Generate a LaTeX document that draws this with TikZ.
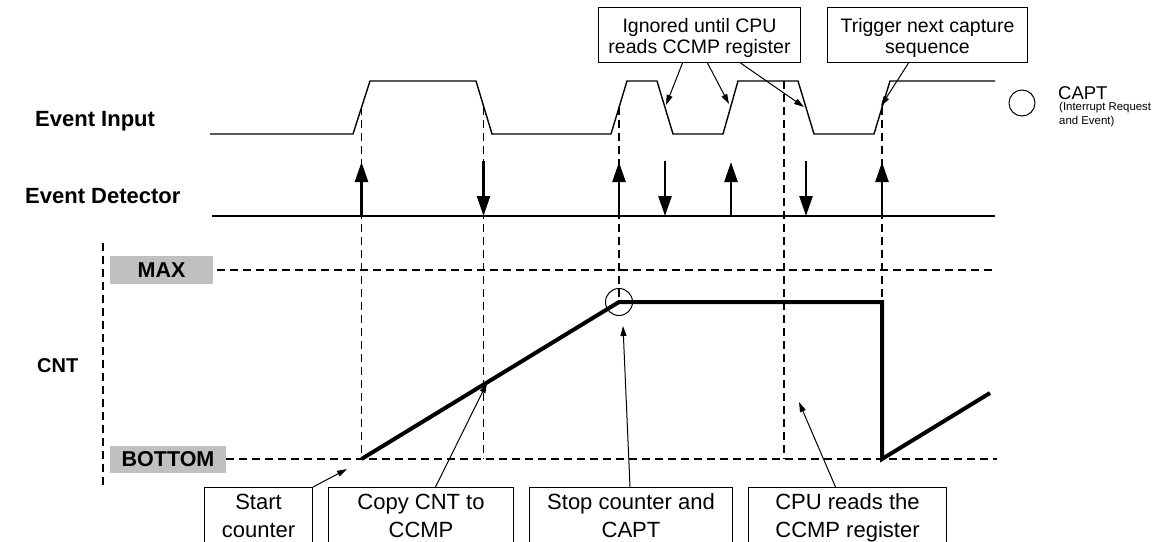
\documentclass[tikz,border=0pt]{standalone}
\usepackage{fontspec}
\setmainfont{Liberation Sans}
\usetikzlibrary{arrows.meta}
\definecolor{lblgray}{RGB}{192,192,192}
\begin{document}
\begin{tikzpicture}[x=1pt,y=-1pt,
  wave/.style={line width=1.4pt, line join=miter},
  gridline/.style={line width=1.1pt, dash pattern=on 8pt off 5pt},
  evarrow/.style={line width=2.5pt, -{Triangle[length=20pt,width=13pt]}},
  cntline/.style={line width=4pt, line join=miter},
  ann/.style={line width=1pt, -{Triangle[length=10pt,width=6pt]}},
  topbox/.style={draw, line width=1pt, anchor=north west, inner sep=0pt, align=center,
    font=\fontsize{19.5}{21}\selectfont, text height=46pt, text depth=9pt},
  botbox/.style={draw, line width=1pt, anchor=north west, inner sep=0pt, align=center,
    font=\fontsize{22}{28}\selectfont, text height=50pt, text depth=8pt},
  siglabel/.style={anchor=base west, inner sep=0pt, font=\fontsize{22}{26}\selectfont\bfseries},
  levelbox/.style={fill=lblgray, inner sep=0pt, font=\fontsize{21.5}{26}\selectfont\bfseries,
    text height=15.4pt, text depth=0pt},
]
\useasboundingbox (0,0) rectangle (1154,541);
\clip (0,0) rectangle (1154,541);

% signal labels
\node[siglabel] (ei) at (35,126) {Event Input};
\node[siglabel] (ed) at (25,203) {Event Detector};
\node[siglabel, font=\fontsize{20}{24}\selectfont\bfseries] (cntl) at (37,372) {CNT};

% level boxes
\node[levelbox, minimum width=103pt, minimum height=28pt] (max) at (161.5,270) {MAX};
\node[levelbox, minimum width=116pt, minimum height=27pt] (bot) at (168,459) {BOTTOM};
\coordinate (maxend) at (997,270);
\coordinate (botend) at (997,459);
\draw[gridline] ([xshift=4pt]max.east) -- (maxend);
\draw[gridline] (bot.east) -- (botend);
\draw[gridline] (103,243) -- (103,487);

% vertical dashed markers
\draw[gridline] (361.5,107) -- (361.5,459);
\draw[gridline] (483.5,107) -- (483.5,459);
\draw[gridline] (619,107) -- (619,302);
\draw[gridline] (784,81) -- (784,459);
\draw[gridline] (882,107) -- (882,302);

% event input waveform
\draw[wave] (210,134) -- (353,134) -- (370,81) -- (476,81) -- (492,134) -- (611,134)
  -- (627,81) -- (657,81) -- (673,134) -- (723,134) -- (738,81) -- (798,81)
  -- (814,134) -- (874,134) -- (890,81) -- (995,81);

% event detector
\draw[wave] (212,216) -- (995,216);
\draw[evarrow] (361.5,216) -- (361.5,162);
\draw[evarrow] (483.5,161) -- (483.5,216);
\draw[evarrow] (619,216) -- (619,162);
\draw[evarrow] (665,161) -- (665,216);
\draw[evarrow] (731,216) -- (731,162);
\draw[evarrow] (806,161) -- (806,216);
\draw[evarrow] (882,216) -- (882,162);

% counter
\draw[cntline] (361.5,459) -- (619,302) -- (882,302) -- (882,459) -- (990,393);
\node[circle, draw, line width=1pt, minimum size=27pt, inner sep=0pt] (pk) at (619,302) {};

% legend
\node[circle, draw, line width=1pt, minimum size=26pt, inner sep=0pt] (capt) at (1022,103) {};
\node[anchor=base west, inner sep=0pt, font=\fontsize{18.5}{20}\selectfont] (captt) at (1058,99) {CAPT};
\node[anchor=base west, inner sep=0pt, align=left, font=\fontsize{11.4}{14}\selectfont] (captd) at (1059,124) {(Interrupt Request\\and Event)};

% top annotation boxes
\node[topbox, minimum width=202pt] (ign) at (598,7) {Ignored until CPU\\reads CCMP register};
\node[topbox, minimum width=200pt] (trig) at (827,7) {Trigger next capture\\sequence};
\coordinate (t1) at (666,105);
\coordinate (t2) at (729,104);
\coordinate (t3) at (804,107);
\coordinate (t4) at (881,106);
\draw[ann] ([xshift=-17pt]ign.south) -- (t1);
\draw[ann] ([xshift=8pt]ign.south) -- (t2);
\draw[ann] ([xshift=41pt]ign.south) -- (t3);
\draw[ann] ([xshift=-19pt]trig.south) -- (t4);

% bottom annotation boxes
\node[botbox, minimum width=108pt] (start) at (204,487) {Start\\counter};
\node[botbox, minimum width=185pt] (copy) at (328,487) {Copy CNT to\\CCMP};
\node[botbox, minimum width=203pt] (stop) at (529,487) {Stop counter and\\CAPT};
\node[botbox, minimum width=198pt] (cpu) at (748,487) {CPU reads the\\CCMP register};
\coordinate (tStart) at (347,469);
\coordinate (tCopy) at (487,383);
\coordinate (tStop) at (623,326);
\coordinate (tCpu) at (799,402);
\draw[ann] (start.north east) -- (tStart);
\draw[ann] ([xshift=14.5pt]copy.north) -- (tCopy);
\draw[ann] ([xshift=-1pt]stop.north) -- (tStop);
\draw[ann] ([xshift=-12pt]cpu.north) -- (tCpu);
\end{tikzpicture}
\end{document}
